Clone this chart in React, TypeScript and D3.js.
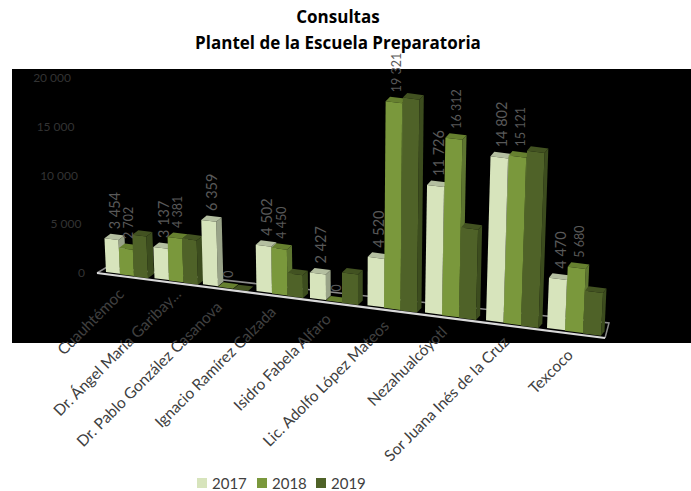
import React from "react";
import * as d3 from "d3";

const categories = ["Cuauhtémoc","Dr. Ángel María Garibay...","Dr. Pablo González Casanova","Ignacio Ramírez Calzada","Isidro Fabela Alfaro","Lic. Adolfo López Mateos","Nezahualcóyotl","Sor Juana Inés de la Cruz","Texcoco"];
const v2017 = [3454,3137,6359,4502,2427,4520,11726,14802,4470];
const v2018 = [2702,4381,0,4450,0,19321,16312,15121,5680];
const v2019 = [4300,4450,0,2200,2900,19900,8300,15800,3800];
const yTicks = [0,5000,10000,15000,20000];
const seriesNames = ["2017","2018","2019"];
const seriesValues = [v2017,v2018,v2019];
const front = ["#d7e4bc","#7a983c","#4f6228"];
const topC = ["#b4bfa0","#66802f","#425221"];
const sideC = ["#99a388","#5d7530","#3c4c1e"];
const FONT = "Lato, 'Open Sans', sans-serif";
const TITLE_FONT = "'Open Sans', Lato, sans-serif";
const fmt = (v:number)=> d3.format(",")(v).replace(/,/g," ");

const yAxis = d3.scaleLinear().domain([0,20000]).range([273,78]);
const yLabelX = d3.scaleLinear().domain([0,20000]).range([85,71]);
const catX = d3.scaleLinear().domain([0,2,4,6,8]).range([106,203,310,425,547]);
const barW = d3.scaleLinear().domain([0,8]).range([14,18]);
const persp = d3.scaleLinear().domain([0,8]).range([1,1.155]);
const baseY = d3.scaleLinear().domain([106,547]).range([272,328]);
const lean = d3.scaleLinear().domain([110,550]).range([-0.045,0.04]);
const depthX = d3.scaleLinear().domain([0,8]).range([6,3.5]);
const labelEndX = d3.scaleLinear().domain([0,1,2,3,4,5,6,7,8]).range([125,182,223,277,332,390,448,510,574]);
const labelEndY = d3.scaleLinear().domain([0,1,2,3,4,5,6,7,8]).range([295,295,308,313,320,327,333,343,356]);
const floorFront = d3.scaleLinear().domain([97,605]).range([273,338]);
const floorBack = d3.scaleLinear().domain([107,609]).range([267,323]);

const poly = (pts:number[][]) => d3.line()(pts as any)! + "Z";

export default function App(){
  const bars:any[] = [];
  const labels:any[] = [];
  categories.forEach((_,i)=>{
    const w = barW(i);
    seriesValues.forEach((vals,s)=>{
      const x0 = catX(i)+s*w, x1 = x0+w;
      const b0 = baseY(x0)+s*0.5, b1 = baseY(x1)+s*0.5;
      const h = (yAxis(0)-yAxis(vals[i]))*persp(i);
      const dl = lean(x0)*h;
      const dx = depthX(i), dy = 4.5;
      const tl=[x0+dl,b0-h], tr=[x1+dl,b1-h], br=[x1,b1], bl=[x0,b0];
      const tl2=[tl[0]+dx,tl[1]-dy], tr2=[tr[0]+dx,tr[1]-dy], br2=[br[0]+dx,br[1]-dy];
      bars.push(
        <g key={`${i}-${s}`}>
          <path d={poly([tr,tr2,br2,br])} fill={sideC[s]}/>
          <path d={poly([tl,tl2,tr2,tr])} fill={topC[s]}/>
          <path d={poly([tl,tr,br,bl])} fill={front[s]}/>
        </g>
      );
      if(s<2){
        const fs = s===0?14.5:12.5;
        const lx = x0+dl+w/2+3+fs*0.35;
        const ly = tl[1]-9;
        labels.push(
          <text key={`l${i}-${s}`} transform={`translate(${lx},${ly}) rotate(-90)`} fontSize={fs} fill="#595959" fontFamily={FONT}>{fmt(vals[i])}</text>
        );
      }
    });
  });
  const legendX = [197,257,316];
  return (
    <svg width={691} height={491} style={{position:"absolute",left:0,top:0,background:"#fff"}}>
      <rect x={12} y={69} width={679} height={274} fill="#000"/>
      <path d={d3.line()([[97,floorFront(97)],[107,floorBack(107)],[609,floorBack(609)],[605,floorFront(605)]] as any)!} fill="none" stroke="#8c8c8c" strokeWidth={1.5}/>
      {yTicks.map(t=>(
        <text key={t} x={yLabelX(t)} y={yAxis(t)+4} textAnchor="end" fontSize={12} fill="#333" fontFamily={FONT}>{fmt(t)}</text>
      ))}
      {bars}
      <line x1={97} y1={floorFront(97)} x2={605} y2={floorFront(605)} stroke="#d9d9d9" strokeWidth={2.2}/>
      {labels}
      {categories.map((c,i)=>(
        <text key={c} transform={`translate(${labelEndX(i)},${labelEndY(i)}) rotate(-45)`} textAnchor="end" fontSize={15.5} fill="#404040" fontFamily={FONT}>{c}</text>
      ))}
      <text x={338} y={23} textAnchor="middle" fontSize={17} fontWeight={700} fill="#000" fontFamily={TITLE_FONT} textLength={undefined}>Consultas</text>
      <text x={338} y={49} textAnchor="middle" fontSize={17} fontWeight={700} fill="#000" fontFamily={TITLE_FONT}>Plantel de la Escuela Preparatoria</text>
      {seriesNames.map((n,s)=>(
        <g key={n}>
          <rect x={legendX[s]} y={478} width={10} height={10} fill={front[s]}/>
          <text x={legendX[s]+15} y={489} fontSize={15} fill="#404040" fontFamily={FONT}>{n}</text>
        </g>
      ))}
    </svg>
  );
}
